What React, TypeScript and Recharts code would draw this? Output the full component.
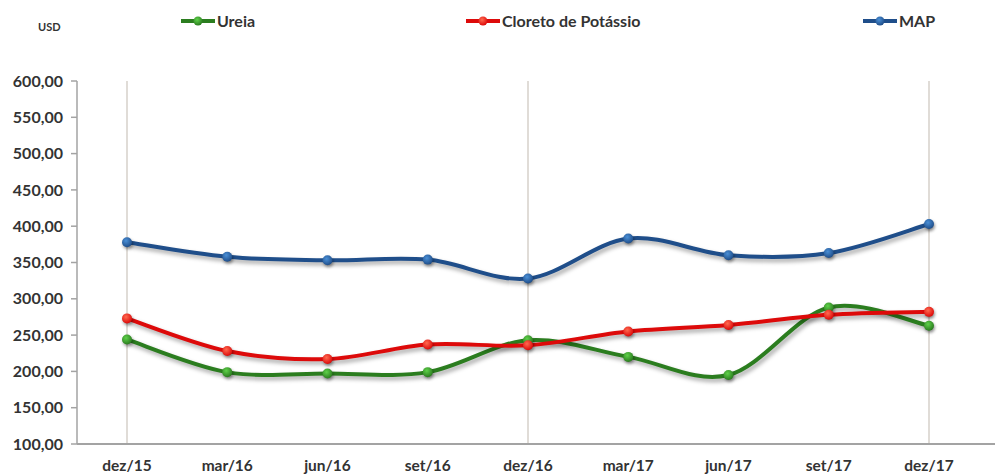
import React from 'react';
import { LineChart, Line, XAxis, YAxis, ReferenceLine } from 'recharts';

const categories = ['dez/15', 'mar/16', 'jun/16', 'set/16', 'dez/16', 'mar/17', 'jun/17', 'set/17', 'dez/17'];
const ureia = [244, 199, 197, 199, 243, 220, 195, 288, 263];
const cloreto = [273, 228, 217, 237, 236, 255, 264, 278, 282];
const map = [378, 358, 353, 354, 328, 383, 360, 363, 403];
const yTicks = [100, 150, 200, 250, 300, 350, 400, 450, 500, 550, 600];
const gridCategories = ['dez/15', 'dez/16', 'dez/17'];

const data = categories.map((c, i) => ({ cat: c, ureia: ureia[i], cloreto: cloreto[i], map: map[i] }));

const series = [
  { key: 'ureia', name: 'Ureia', color: '#2b7d1f', light: '#5fd14a', grad: 'gGreen' },
  { key: 'cloreto', name: 'Cloreto de Potássio', color: '#dd0a0a', light: '#ff6a50', grad: 'gRed' },
  { key: 'map', name: 'MAP', color: '#1f4e8a', light: '#4a8fd6', grad: 'gBlue' },
];

// Excel-like smoothed curve (cardinal / Catmull-Rom Bezier)
const excelCurve: any = (context: any) => {
  let pts: number[][] = [];
  return {
    areaStart() {},
    areaEnd() {},
    lineStart() { pts = []; },
    point(x: number, y: number) { pts.push([+x, +y]); },
    lineEnd() {
      if (!pts.length) return;
      context.moveTo(pts[0][0], pts[0][1]);
      for (let i = 0; i < pts.length - 1; i++) {
        const p0 = pts[i - 1] || pts[i];
        const p1 = pts[i];
        const p2 = pts[i + 1];
        const p3 = pts[i + 2] || pts[i + 1];
        const c1x = p1[0] + (p2[0] - p0[0]) / 6;
        const c1y = p1[1] + (p2[1] - p0[1]) / 6;
        const c2x = p2[0] - (p3[0] - p1[0]) / 6;
        const c2y = p2[1] - (p3[1] - p1[1]) / 6;
        context.bezierCurveTo(c1x, c1y, c2x, c2y, p2[0], p2[1]);
      }
    },
  };
};

const FONT = 'Lato, "Open Sans", sans-serif';
const legendLefts = [180, 465, 862];

const LegendBlock = () => (
  <div style={{ position: 'absolute', left: 0, top: 0, width: 997, height: 40, fontFamily: FONT }}>
    <div style={{ position: 'absolute', left: 38, top: 20, fontSize: 11, fontWeight: 700, color: '#333' }}>USD</div>
    {series.map((s, i) => (
      <div key={s.key} style={{ position: 'absolute', left: legendLefts[i], top: 11, display: 'flex', alignItems: 'center' }}>
        <svg width={36} height={14}>
          <line x1={1} y1={7} x2={35} y2={7} stroke={s.color} strokeWidth={4} />
          <circle cx={18} cy={7} r={4.5} fill={`url(#${s.grad})`} />
        </svg>
        <span style={{ fontSize: 16, fontWeight: 700, color: '#333', marginLeft: 1 }}>{s.name}</span>
      </div>
    ))}
  </div>
);

const makeDot = (grad: string) => (props: any) => {
  const { cx, cy, index } = props;
  if (cx == null || cy == null) return <g key={index} />;
  return <circle key={index} cx={cx} cy={cy} r={5} fill={`url(#${grad})`} style={{ filter: 'drop-shadow(1.5px 2px 1.5px rgba(0,0,0,0.4))' }} />;
};

export default function App() {
  return (
    <div style={{ position: 'absolute', left: 0, top: 0, width: 997, height: 475, background: '#fff' }}>
      <style>{`.recharts-line-curve{filter:drop-shadow(2px 3px 2px rgba(0,0,0,0.35));}`}</style>
      <svg width={0} height={0} style={{ position: 'absolute' }}>
        <defs>
          {series.map((s) => (
            <radialGradient key={s.grad} id={s.grad} cx="40%" cy="35%" r="65%">
              <stop offset="0%" stopColor={s.light} />
              <stop offset="100%" stopColor={s.color} />
            </radialGradient>
          ))}
        </defs>
      </svg>
      <LineChart width={997} height={475} data={data} margin={{ top: 81, right: 2, bottom: 1, left: 0 }}>
        <XAxis
          dataKey="cat"
          height={30}
          padding={{ left: 50, right: 66 }}
          axisLine={{ stroke: '#a3a3a3', strokeWidth: 2 }}
          tickLine={false}
          tickMargin={10}
          tick={{ fill: '#333', fontSize: 15.5, fontWeight: 700, fontFamily: FONT }}
          interval={0}
        />
        <YAxis
          width={77}
          domain={[100, 600]}
          ticks={yTicks}
          type="number"
          allowDataOverflow
          tickFormatter={(v: number) => v.toFixed(2).replace('.', ',')}
          axisLine={{ stroke: '#a3a3a3', strokeWidth: 1.5 }}
          tickLine={{ stroke: '#a3a3a3', strokeWidth: 1.5 }}
          tickSize={6}
          tickMargin={8}
          tick={{ fill: '#333', fontSize: 16, fontWeight: 700, fontFamily: FONT }}
        />
        {gridCategories.map((c) => (
          <ReferenceLine key={c} x={c} stroke="#d6d0ca" strokeWidth={1.5} />
        ))}
        {series.map((s) => (
          <Line
            key={s.key}
            dataKey={s.key}
            name={s.name}
            type={excelCurve}
            stroke={s.color}
            strokeWidth={4}
            dot={makeDot(s.grad)}
            activeDot={false}
            isAnimationActive={false}
          />
        ))}
      </LineChart>
      <LegendBlock />
    </div>
  );
}
